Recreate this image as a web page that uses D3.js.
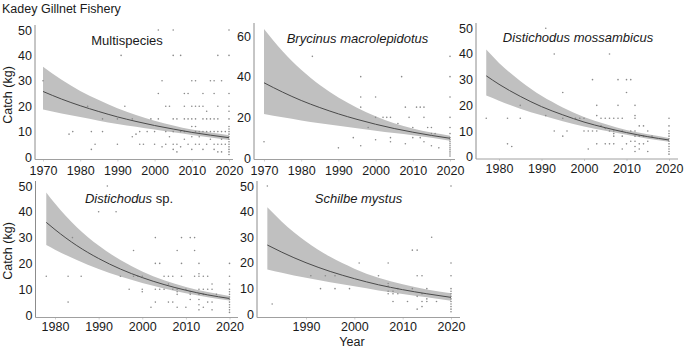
<!DOCTYPE html>
<html><head><meta charset="utf-8">
<script src="https://cdn.jsdelivr.net/npm/d3@7"></script>
<style>
body{margin:0;background:#fff}
svg text{font-family:"Liberation Sans",Arial,sans-serif;fill:#1a1a1a}
</style></head>
<body><svg id="chart" width="685" height="348"></svg>
<script>
// ---------- DATA ----------
const chartTitle = "Kadey Gillnet Fishery";
const yAxisTitle = "Catch (kg)";
const xAxisTitle = "Year";
const species = ["Multispecies", "Brycinus macrolepidotus", "Distichodus mossambicus", "Distichodus sp.", "Schilbe mystus"];

const multiPts = [[1970,30],[1977,9],[1978,10],[1982,20],[1983,10],[1983,3],[1984,5],[1986,10],[1986,15],[1990,5],[1990,15],[1991,40],[1992,20],[1994,8],[1994,15],[1995,9],[1996,10],[1996,5],[1997,5],[1998,10],[1999,15],[2000,10],[2000,5],[2001,50],[2001,25],[2001,15],[2002,30],[2002,4],[2003,20],[2003,10],[2003,5],[2004,20],[2004,8],[2005,50],[2005,40],[2005,15],[2005,10],[2005,5],[2005,3],[2006,15],[2006,5],[2006,2],[2007,40],[2007,10],[2007,4],[2008,25],[2008,20],[2008,15],[2008,10],[2008,7],[2009,25],[2009,15],[2009,5],[2010,30],[2010,20],[2010,15],[2010,12],[2010,8],[2010,3],[2011,30],[2011,20],[2011,15],[2011,12],[2011,10],[2011,5],[2012,20],[2012,10],[2012,8],[2012,5],[2013,25],[2013,20],[2013,15],[2013,10],[2013,3],[2014,18],[2014,15],[2014,10],[2014,5],[2015,30],[2015,15],[2015,10],[2015,7],[2016,30],[2016,25],[2016,15],[2016,10],[2016,5],[2016,3],[2017,40],[2017,20],[2017,15],[2017,10],[2017,5],[2017,2],[2018,30],[2018,10],[2018,7],[2018,5],[2018,2],[2019,10],[2019,5],[2020,50],[2020,40],[2020,25],[2020,20],[2020,18],[2020,15],[2020,12],[2020,11],[2020,10],[2020,9],[2020,8],[2020,7],[2020,6],[2020,5],[2020,4],[2020,3],[2020,2],[2020,1]];
const brycPts = [[1970,8],[1983,50],[1990,5],[1994,10],[1996,40],[1996,30],[1996,25],[1996,6],[1998,15],[2000,30],[2000,20],[2000,9],[2002,20],[2003,20],[2004,20],[2004,10],[2004,8],[2006,17],[2007,40],[2008,25],[2008,7],[2009,20],[2010,15],[2010,10],[2011,25],[2012,25],[2012,10],[2013,25],[2013,20],[2013,8],[2014,15],[2015,15],[2015,12],[2015,6],[2016,12],[2017,5],[2020,50],[2020,40],[2020,30],[2020,20],[2020,15],[2020,12],[2020,10],[2020,9],[2020,8],[2020,7],[2020,6],[2020,5],[2020,4],[2020,3],[2020,2],[2020,1]];
const mossPts = [[1977,15],[1982,15],[1982,5],[1983,4],[1985,20],[1985,15],[1991,50],[1991,16],[1993,40],[1993,10],[1995,25],[1995,15],[1995,8],[1996,10],[1998,15],[1999,15],[2000,15],[2000,10],[2001,10],[2001,3],[2002,10],[2002,30],[2003,20],[2003,16],[2003,10],[2003,5],[2004,15],[2004,12],[2005,15],[2005,11],[2005,5],[2006,40],[2006,15],[2006,10],[2006,5],[2007,15],[2007,10],[2007,9],[2007,8],[2007,5],[2008,30],[2008,20],[2008,15],[2009,15],[2009,10],[2009,8],[2009,3],[2010,30],[2010,25],[2010,5],[2011,30],[2011,10],[2011,6],[2012,20],[2012,16],[2012,15],[2012,10],[2012,8],[2012,6],[2012,4],[2012,2],[2013,12],[2013,8],[2013,5],[2013,3],[2014,12],[2014,8],[2014,5],[2015,10],[2015,6],[2015,2],[2016,8],[2020,15],[2020,12],[2020,10],[2020,9],[2020,8],[2020,7],[2020,6],[2020,5],[2020,4],[2020,3],[2020,2],[2020,1]];
const distPts = [[1978,15],[1983,15],[1983,5],[1984,30],[1986,15],[1990,40],[1992,50],[1994,40],[1995,15],[1997,10],[1998,25],[1998,15],[1999,15],[2000,15],[2000,10],[2000,9],[2002,3],[2003,30],[2003,20],[2003,10],[2003,5],[2004,20],[2004,10],[2005,15],[2005,10],[2006,15],[2006,12],[2006,5],[2007,15],[2007,10],[2007,5],[2008,25],[2008,10],[2008,9],[2008,8],[2008,3],[2009,30],[2009,20],[2009,15],[2010,10],[2010,3],[2011,30],[2011,9],[2011,8],[2011,6],[2012,30],[2012,25],[2012,15],[2013,20],[2013,16],[2013,15],[2013,10],[2013,8],[2013,6],[2013,4],[2013,2],[2014,15],[2014,10],[2014,8],[2014,3],[2015,15],[2015,10],[2015,5],[2016,12],[2016,10],[2016,5],[2016,2],[2017,8],[2020,20],[2020,15],[2020,12],[2020,10],[2020,9],[2020,8],[2020,7],[2020,6],[2020,5],[2020,4],[2020,3],[2020,2],[2020,1]];
const schPts = [[1982,50],[1983,4],[1991,15],[1993,10],[1994,15],[1996,15],[1996,10],[1999,10],[2001,20],[2005,15],[2007,20],[2007,12],[2007,11],[2007,9],[2007,8],[2008,9],[2008,8],[2008,5],[2009,10],[2009,8],[2011,5],[2012,25],[2012,10],[2013,25],[2013,15],[2013,7],[2013,2],[2014,15],[2014,8],[2014,5],[2014,3],[2015,10],[2015,6],[2015,5],[2016,30],[2017,5],[2020,50],[2020,20],[2020,15],[2020,10],[2020,9],[2020,8],[2020,7],[2020,6],[2020,5],[2020,4],[2020,3],[2020,2],[2020,1]];

// fitted trend and confidence band
const multiYears = [1970,1975,1980,1985,1990,1995,2000,2005,2010,2015,2020];
const multiFit   = [25.8,22.8,20.2,17.9,15.8,14.0,12.4,11.0,9.7,8.6,7.6];
const multiLo    = [18.7,17.1,15.7,14.3,13.0,11.9,10.8,9.7,8.7,7.7,6.7];
const multiHi    = [35.5,30.4,26.0,22.4,19.2,16.5,14.3,12.4,10.8,9.6,8.6];

const brycYears = [1970,1975,1980,1985,1990,1995,2000,2005,2010,2015,2020];
const brycFit   = [37.0,32.4,28.3,24.8,21.7,19.0,16.6,14.5,12.7,11.1,9.7];
const brycLo    = [21.6,20.0,18.5,17.1,15.8,14.6,13.4,12.3,11.2,9.9,8.5];
const brycHi    = [63.5,52.5,43.4,35.9,29.7,24.7,20.5,17.1,14.5,12.5,11.0];

const mossYears = [1977,1980,1985,1990,1995,2000,2005,2010,2015,2020];
const mossFit   = [31.5,28.2,23.5,19.5,16.3,13.5,11.3,9.4,7.8,6.5];
const mossLo    = [23.8,21.8,18.7,16.1,13.8,11.8,10.1,8.5,7.0,5.8];
const mossHi    = [41.7,36.5,29.5,23.7,19.2,15.5,12.7,10.4,8.7,7.3];

const distYears = [1978,1980,1985,1990,1995,2000,2005,2010,2015,2020];
const distFit   = [35.9,33.1,26.9,21.9,17.8,14.5,11.8,9.6,7.8,6.4];
const distLo    = [27.1,25.3,21.3,17.8,14.9,12.4,10.3,8.4,6.9,5.6];
const distHi    = [47.5,43.2,34.0,26.9,21.3,16.9,13.5,10.9,8.9,7.4];

const schYears = [1982,1985,1990,1995,2000,2005,2010,2015,2020];
const schFit   = [27.0,24.2,20.1,16.7,13.9,11.5,9.6,8.0,6.6];
const schLo    = [17.5,16.2,14.2,12.5,10.9,9.3,7.9,6.6,5.3];
const schHi    = [41.7,36.1,28.4,22.4,17.8,14.2,11.7,9.7,8.2];

const xTicks50 = [1970,1980,1990,2000,2010,2020];
const xTicks40 = [1980,1990,2000,2010,2020];
const xTicks30 = [1990,2000,2010,2020];
const yTicks50 = [0,10,20,30,40,50];
const yTicks60 = [0,20,40,60];

// ---------- LAYOUT ----------
const panels = [
  {name:species[0], pts:multiPts, yrs:multiYears, fit:multiFit, lo:multiLo, hi:multiHi, xd:[1970,2020], xr:[43,229], yd:[0,50], yr:[157,30], xt:xTicks50, yt:yTicks50, axX:35, axY:159.5, axTop:25, axRight:233, lblY:175.5, tx:127, ty:45},
  {name:species[1], pts:brycPts, yrs:brycYears, fit:brycFit, lo:brycLo, hi:brycHi, xd:[1970,2020], xr:[264,450], yd:[0,60], yr:[158,36], xt:xTicks50, yt:yTicks60, axX:254, axY:159.5, axTop:23, axRight:455, lblY:175, tx:357.5, ty:43, italic:true},
  {name:species[2], pts:mossPts, yrs:mossYears, fit:mossFit, lo:mossLo, hi:mossHi, xd:[1980,2020], xr:[499,669], yd:[0,50], yr:[156.7,28.3], xt:xTicks40, yt:yTicks50, axX:476, axY:159, axTop:23, axRight:678, lblY:173, tx:578, ty:42, italic:true},
  {name:species[3], pts:distPts, yrs:distYears, fit:distFit, lo:distLo, hi:distHi, xd:[1980,2020], xr:[55,229.5], yd:[0,50], yr:[315,186], xt:xTicks40, yt:yTicks50, axX:35.5, axY:317.5, axTop:181, axRight:238, lblY:331, tx:129, ty:203, partItalic:true},
  {name:species[4], pts:schPts, yrs:schYears, fit:schFit, lo:schLo, hi:schHi, xd:[1990,2020], xr:[306,451], yd:[0,50], yr:[314.3,186], xt:xTicks30, yt:yTicks50, axX:257, axY:317.5, axTop:181, axRight:460, lblY:331, tx:358.5, ty:203, italic:true}
];

const svg = d3.select("#chart");
svg.append("rect").attr("width",685).attr("height",348).attr("fill","#fff");

svg.append("text").attr("x",2).attr("y",13).attr("font-size",12.5).text(chartTitle);

[95, 251].forEach(cy => {
  svg.append("text").attr("transform",`translate(12,${cy}) rotate(-90)`)
    .attr("text-anchor","middle").attr("font-size",12.5).text(yAxisTitle);
});
svg.append("text").attr("x",352).attr("y",346).attr("text-anchor","middle").attr("font-size",12.5).text(xAxisTitle);

panels.forEach(p => {
  const x = d3.scaleLinear().domain(p.xd).range(p.xr);
  const y = d3.scaleLinear().domain(p.yd).range(p.yr);
  const g = svg.append("g");
  const rows = p.yrs.map((yr,i)=>({yr, f:p.fit[i], lo:p.lo[i], hi:p.hi[i]}));

  g.append("path").datum(rows)
    .attr("d", d3.area().x(d=>x(d.yr)).y0(d=>y(d.lo)).y1(d=>y(d.hi)).curve(d3.curveMonotoneX))
    .attr("fill","#c0c0c0");

  g.selectAll("circle").data(p.pts).join("circle")
    .attr("cx",d=>x(d[0])).attr("cy",d=>y(d[1])).attr("r",0.8).attr("fill","#8a8a8a");

  g.append("path").datum(rows)
    .attr("d", d3.line().x(d=>x(d.yr)).y(d=>y(d.f)).curve(d3.curveMonotoneX))
    .attr("fill","none").attr("stroke","#4a4a4a").attr("stroke-width",1);

  // axes
  const ya = g.append("g").attr("transform",`translate(${p.axX},0)`)
    .call(d3.axisLeft(y).tickValues(p.yt).tickSize(0).tickPadding(3).tickFormat(d3.format("d")));
  ya.select(".domain").remove();
  ya.selectAll("text").attr("font-size",12.5).attr("font-family",null).attr("fill","#1a1a1a");

  const xa = g.append("g").attr("transform",`translate(0,${p.axY})`)
    .call(d3.axisBottom(x).tickValues(p.xt).tickSizeInner(2).tickSizeOuter(0).tickPadding(p.lblY - p.axY - 2 - 8.9).tickFormat(d3.format("d")));
  xa.select(".domain").remove();
  xa.selectAll("line").attr("stroke","#d0d0d0");
  xa.selectAll("text").attr("font-size",12.5).attr("font-family",null).attr("fill","#1a1a1a");

  g.append("line").attr("x1",p.axX).attr("x2",p.axX).attr("y1",p.axTop).attr("y2",p.axY)
    .attr("stroke","#8c8c8c").attr("stroke-width",1);
  g.append("line").attr("x1",p.axX).attr("x2",p.axRight).attr("y1",p.axY).attr("y2",p.axY)
    .attr("stroke","#a0a0a0").attr("stroke-width",1);

  const t = g.append("text").attr("x",p.tx).attr("y",p.ty).attr("text-anchor","middle").attr("font-size",13);
  if (p.partItalic) {
    const parts = p.name.split(" ");
    t.append("tspan").attr("font-style","italic").text(parts[0]);
    t.append("tspan").text(" " + parts.slice(1).join(" "));
  } else {
    t.attr("font-style", p.italic ? "italic" : "normal").text(p.name);
  }
});
</script>
</body></html>
